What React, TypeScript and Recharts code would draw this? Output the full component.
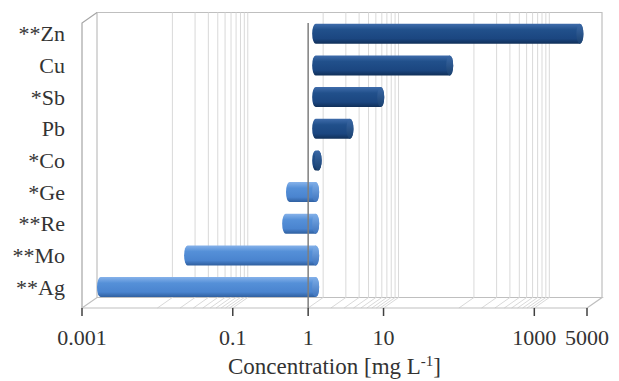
import { BarChart, Bar, XAxis, YAxis, ReferenceLine, ReferenceArea } from "recharts";

const CATEGORIES = ["**Zn", "Cu", "*Sb", "Pb", "*Co", "*Ge", "**Re", "**Mo", "**Ag"];
const VALUES = [3200, 60, 7.3, 2.85, 1.08, 0.45, 0.4, 0.02, 0.0014];
const X_TICKS = [0.001, 0.1, 1, 10, 1000, 5000];
const GRID_LINES = [
  0.01, 0.02, 0.03, 0.04, 0.05, 0.06, 0.07, 0.08, 0.09, 0.1,
  1, 2, 3, 4, 5, 6, 7, 8, 9, 10,
  100, 200, 300, 400, 500, 600, 700, 800, 900, 1000,
];
const BASELINE = 1;
const DOMAIN = [0.001, 5000];

const data = CATEGORIES.map((name, i) => ({
  name,
  value: VALUES[i],
  range: [Math.min(BASELINE, VALUES[i]), Math.max(BASELINE, VALUES[i])],
}));

// 3D depth offset: back wall vs front plane
const DX = 15;
const DY = -10.5;
const FONT = "Liberation Serif";
const GRID = "#d9d9d9";
const FRAME = "#bfbfbf";
const textStyle = { fontFamily: FONT, fontSize: 22 };
const W = 619;
const H = 381;
const MARGIN = { top: 23, right: 32, bottom: 0, left: 0 };

function GridShape(props: any) {
  const x = props.x1;
  const bottom = Math.max(props.y1, props.y2);
  const top = Math.min(props.y1, props.y2);
  return (
    <polyline
      points={`${x},${bottom} ${x + DX},${bottom + DY} ${x + DX},${top + DY}`}
      fill="none"
      stroke={GRID}
      strokeWidth={1}
    />
  );
}

function FrameShape(props: any) {
  const { x, y, width, height } = props;
  const r = x + width;
  const b = y + height;
  return (
    <g fill="none" stroke={FRAME} strokeWidth={1.2}>
      <polyline points={`${x + DX},${b + DY} ${x + DX},${y + DY} ${r + DX},${y + DY} ${r + DX},${b + DY}`} />
      <polyline points={`${x},${b} ${x},${y} ${x + DX},${y + DY}`} stroke="#a6a6a6" />
      <polyline points={`${x},${b} ${x + DX},${b + DY} ${r + DX},${b + DY} ${r},${b}`} />
    </g>
  );
}

function Cylinder(props: any) {
  const { x, y, width, height, payload } = props;
  let x0 = x;
  let w = width;
  if (w < 0) {
    x0 = x + w;
    w = -w;
  }
  const left = x0 + DX / 2;
  const right = left + w;
  const top = y + DY / 2;
  const h = height;
  const rx = 3.5;
  const ry = h / 2;
  const dark = payload.value >= BASELINE;
  const d = `M${left},${top} L${right},${top} A${rx},${ry} 0 0 1 ${right},${top + h} L${left},${top + h} A${rx},${ry} 0 0 1 ${left},${top} Z`;
  return (
    <g>
      <path d={d} fill={dark ? "url(#cylDark)" : "url(#cylLight)"} />
      <ellipse
        cx={right}
        cy={top + ry}
        rx={rx}
        ry={ry}
        fill={dark ? "url(#capDark)" : "url(#capLight)"}
      />
    </g>
  );
}

function XTick(props: any) {
  const { x, y, payload } = props;
  return (
    <text x={x} y={y} dy={27} textAnchor="middle" style={textStyle} fill="#333">
      {payload.value}
    </text>
  );
}

function YTick(props: any) {
  const { x, y, payload } = props;
  return (
    <text x={x - 9} y={y + DY / 2} dy="0.35em" textAnchor="end" style={textStyle} fill="#333">
      {payload.value}
    </text>
  );
}

function AxisTitle(props: any) {
  const vb = props.viewBox;
  return (
    <text x={vb.x + vb.width / 2} y={vb.y + 66} textAnchor="middle" style={{ ...textStyle, fontSize: 23 }} fill="#333">
      Concentration [mg L
      <tspan dy={-8} style={{ fontSize: 15 }}>-1</tspan>
      <tspan dy={8}>]</tspan>
    </text>
  );
}

const layer = { position: "absolute" as const, left: 0, top: 0 };

export default function App() {
  return (
    <div style={{ position: "absolute", left: 0, top: 0, width: W, height: H, background: "#fff" }}>
      {/* back layer: walls, gridlines, axes */}
      <div style={layer}>
        <BarChart width={W} height={H} data={data} layout="vertical" margin={MARGIN} barSize={20}>
          <XAxis
            type="number"
            scale="log"
            domain={DOMAIN}
            ticks={X_TICKS}
            allowDataOverflow
            height={73}
            tickSize={8}
            tick={<XTick />}
            tickLine={{ stroke: "#404040", strokeWidth: 1.5 }}
            axisLine={{ stroke: FRAME }}
            label={{ content: <AxisTitle /> }}
          />
          <YAxis
            type="category"
            dataKey="name"
            width={82}
            axisLine={false}
            tickLine={false}
            tick={<YTick />}
            interval={0}
          />
          <ReferenceArea x1={DOMAIN[0]} x2={DOMAIN[1]} shape={<FrameShape />} fill="none" />
          {GRID_LINES.map((g) => (
            <ReferenceLine key={g} x={g} shape={<GridShape />} />
          ))}
        </BarChart>
      </div>
      {/* front layer: cylinders and the axis at 1 */}
      <div style={layer}>
        <BarChart width={W} height={H} data={data} layout="vertical" margin={MARGIN} barSize={20}>
          <defs>
            <linearGradient id="cylDark" x1="0" y1="0" x2="0" y2="1">
              <stop offset="0%" stopColor="#3f6cab" />
              <stop offset="30%" stopColor="#21508b" />
              <stop offset="75%" stopColor="#1b4680" />
              <stop offset="100%" stopColor="#102f58" />
            </linearGradient>
            <linearGradient id="cylLight" x1="0" y1="0" x2="0" y2="1">
              <stop offset="0%" stopColor="#86b2ea" />
              <stop offset="30%" stopColor="#5590d8" />
              <stop offset="75%" stopColor="#4a84cf" />
              <stop offset="100%" stopColor="#2f5f9f" />
            </linearGradient>
            <linearGradient id="capDark" x1="0" y1="0" x2="0" y2="1">
              <stop offset="0%" stopColor="#3a68a6" />
              <stop offset="100%" stopColor="#1a4170" />
            </linearGradient>
            <linearGradient id="capLight" x1="0" y1="0" x2="0" y2="1">
              <stop offset="0%" stopColor="#7eaee8" />
              <stop offset="100%" stopColor="#3f74bd" />
            </linearGradient>
          </defs>
          <XAxis
            type="number"
            scale="log"
            domain={DOMAIN}
            ticks={X_TICKS}
            allowDataOverflow
            height={73}
            tick={false}
            tickLine={false}
            axisLine={false}
          />
          <YAxis type="category" dataKey="name" width={82} axisLine={false} tickLine={false} tick={false} />
          <Bar dataKey="range" shape={<Cylinder />} isAnimationActive={false} />
          <ReferenceLine x={BASELINE} stroke="#7f7f7f" strokeWidth={1.5} />
        </BarChart>
      </div>
    </div>
  );
}
